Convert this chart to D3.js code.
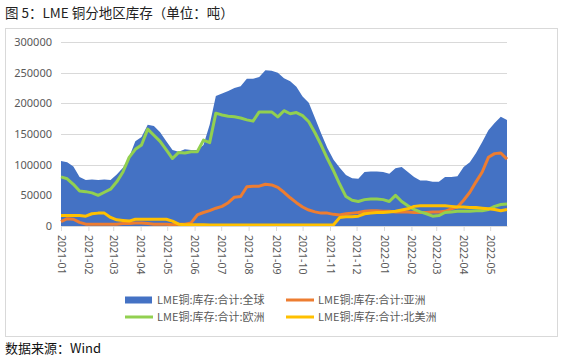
<!DOCTYPE html>
<html><head><meta charset="utf-8">
<script src="https://cdn.jsdelivr.net/npm/d3@7"></script>
<style>
html,body{margin:0;padding:0;background:#fff;}
svg{display:block;font-family:"Noto Sans CJK SC","Noto Sans",sans-serif;}
</style></head><body>
<svg id="c" width="565" height="364"></svg>
<script>
const dates = ["2021-01-01","2021-01-08","2021-01-15","2021-01-22","2021-01-29","2021-02-05","2021-02-12","2021-02-19","2021-02-26","2021-03-05","2021-03-12","2021-03-19","2021-03-26","2021-04-02","2021-04-09","2021-04-16","2021-04-23","2021-04-30","2021-05-07","2021-05-14","2021-05-21","2021-05-28","2021-06-04","2021-06-11","2021-06-18","2021-06-25","2021-07-02","2021-07-09","2021-07-16","2021-07-23","2021-07-30","2021-08-06","2021-08-13","2021-08-20","2021-08-27","2021-09-03","2021-09-10","2021-09-17","2021-09-24","2021-10-01","2021-10-08","2021-10-15","2021-10-22","2021-10-29","2021-11-05","2021-11-12","2021-11-19","2021-11-26","2021-12-03","2021-12-10","2021-12-17","2021-12-24","2021-12-31","2022-01-07","2022-01-14","2022-01-21","2022-01-28","2022-02-04","2022-02-11","2022-02-18","2022-02-25","2022-03-04","2022-03-11","2022-03-18","2022-03-25","2022-04-01","2022-04-08","2022-04-15","2022-04-22","2022-04-29","2022-05-06","2022-05-13","2022-05-20"];
// values in thousand tonnes
const globalStock = [106,104,97,80,75,76,75,76,75,84,95,112,138,145,165,163,153,138,124,121,125,124,124,132,165,212,216,220,225,228,240,240,243,254,253,250,241,236,227,211,201,176,151,127,108,95,83,78,77,88,89,89,88,85,94,96,88,80,74,74,72,72,80,80,81,96,104,119,137,156,168,178,173];
const asiaStock = [7,12,11,6,3,3,3,3,3,3,4,4,5,5,4,3,3,3,2,3,3,5,18,22,25,29,32,38,47,48,64,65,65,68,67,63,55,46,38,31,26,23,21,21,19,18,20,21,22,24,25,25,24,24,23,23,23,22,22,22,23,23,24,28,31,42,55,72,88,112,118,119,109];
const europeStock = [80,77,68,57,56,54,50,55,60,72,88,112,125,132,158,148,138,124,110,120,119,121,121,140,136,184,181,179,178,176,173,171,186,186,186,178,188,183,185,180,170,152,132,110,90,68,48,42,40,43,44,44,43,40,50,40,33,27,23,20,16,17,22,23,24,24,24,25,25,27,32,35,36];
const namStock = [17,17,17,17,16,20,21,21,14,10,9,8,11,11,11,11,11,11,8,3,2,2,2,2,1.5,1.5,1.5,1.5,1.5,1.5,1.5,1.5,1.5,1.5,1.5,1.5,1.5,1.5,1.5,1.5,1.5,1.5,1.5,1.5,2,14,15,15,16,20,21,22,22,23,24,26,28,32,33,33,33,33,33,32,31,31,30,30,29,28,27,25,27];
const yTicks = [0,50000,100000,150000,200000,250000,300000];
const seriesNames = ["LME铜:库存:合计:全球","LME铜:库存:合计:亚洲","LME铜:库存:合计:欧洲","LME铜:库存:合计:北美洲"];
const colors = ["#4472C4","#ED7D31","#92D050","#FFC000"];

const parse = d3.timeParse("%Y-%m-%d");
const X = dates.map(parse);
const svg = d3.select("#c");

// frame
svg.append("rect").attr("x",5.5).attr("y",28.5).attr("width",552).attr("height",308)
  .attr("fill","none").attr("stroke","#d9d9d9");

svg.append("text").attr("x",5).attr("y",18).attr("font-size",13.5).attr("fill","#222")
  .text("图 5：LME 铜分地区库存（单位：吨）");
svg.append("text").attr("x",5).attr("y",353).attr("font-size",13).attr("fill","#111")
  .text("数据来源：Wind");

const x = d3.scaleTime().domain([parse("2021-01-01"), parse("2022-05-20")]).range([61, 507]);
const y = d3.scaleLinear().domain([0,300000]).range([226, 42]);

// grid
svg.append("g").selectAll("line").data(yTicks.slice(1)).join("line")
  .attr("x1",61).attr("x2",507).attr("y1",d=>Math.round(y(d))+0.5).attr("y2",d=>Math.round(y(d))+0.5)
  .attr("stroke","#d9d9d9");

// y labels
const ya = svg.append("g").attr("transform","translate(61,0)")
  .call(d3.axisLeft(y).tickValues(yTicks).tickSize(0).tickPadding(9).tickFormat(d3.format("d")));
ya.select(".domain").remove();
ya.selectAll("text").attr("font-size",11).attr("fill","#595959").attr("font-family","Noto Sans, sans-serif");

const pts = k => X.map((d,i)=>({d, v:k[i]*1000}));

svg.append("path").datum(pts(globalStock))
  .attr("fill",colors[0])
  .attr("d", d3.area().x(p=>x(p.d)).y0(y(0)).y1(p=>y(p.v)));

const line = d3.line().x(p=>x(p.d)).y(p=>y(p.v));
[[asiaStock,1],[europeStock,2],[namStock,3]].forEach(([s,ci])=>{
  svg.append("path").datum(pts(s)).attr("fill","none").attr("stroke",colors[ci])
    .attr("stroke-width",3).attr("stroke-linejoin","round").attr("d",line);
});

// x axis
const months = d3.timeMonth.range(parse("2021-01-01"), parse("2022-05-02"));
const xa = svg.append("g").attr("transform","translate(0,226)")
  .call(d3.axisBottom(x).tickValues(months).tickSize(5).tickSizeOuter(0).tickFormat(d3.timeFormat("%Y-%m")));
xa.select(".domain").attr("stroke","#d9d9d9");
xa.selectAll(".tick line").attr("stroke","#d9d9d9");
xa.selectAll("text").attr("font-size",10.5).attr("fill","#595959").attr("font-family","Noto Sans, sans-serif")
  .attr("transform","rotate(90)").attr("text-anchor","start").attr("dy","0.35em").attr("x",9).attr("y",0);

// legend
const leg = [
  {i:0, x:125, y:300},{i:1, x:286, y:300},{i:2, x:125, y:317},{i:3, x:286, y:317}
];
const lg = svg.append("g");
leg.forEach(l=>{
  if(l.i===0){
    lg.append("rect").attr("x",l.x).attr("y",l.y-3.5).attr("width",27).attr("height",7).attr("fill",colors[0]);
  } else {
    lg.append("line").attr("x1",l.x).attr("x2",l.x+28).attr("y1",l.y).attr("y2",l.y)
      .attr("stroke",colors[l.i]).attr("stroke-width",3);
  }
  lg.append("text").attr("x",l.x+32).attr("y",l.y).attr("dy","0.36em").attr("font-size",11)
    .attr("fill","#595959").text(seriesNames[l.i]);
});
</script>
</body></html>
